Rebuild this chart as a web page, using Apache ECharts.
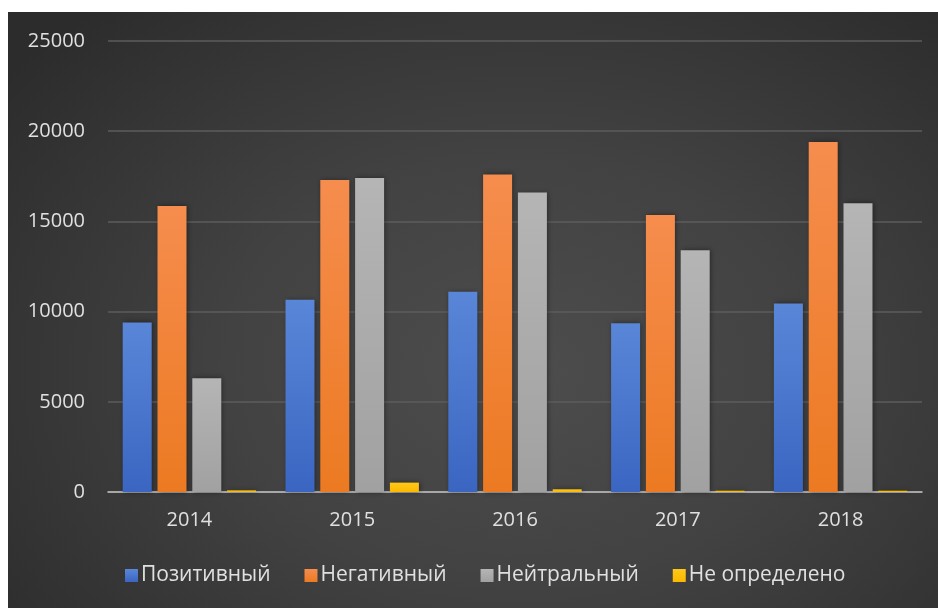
<!DOCTYPE html>
<html>
<head>
<meta charset="utf-8">
<script src="https://cdn.jsdelivr.net/npm/echarts@6/dist/echarts.min.js"></script>
<style>
html,body{margin:0;padding:0;background:#fff;}
#chart{
	position:absolute;left:8px;top:12px;width:930px;height:596px;
	background:radial-gradient(ellipse 70% 80% at 55% 60%, #4d4d4d 0%, #424242 45%, #2c2c2c 100%);
}
</style>
</head>
<body>
<div id="chart"></div>
<script>
// категории и значения
var years = ['2014', '2015', '2016', '2017', '2018'];
var positive = [9400, 10650, 11100, 9350, 10450];
var negative = [15850, 17300, 17600, 15350, 19400];
var neutral = [6300, 17400, 16600, 13400, 16000];
var undefinedVals = [90, 520, 150, 70, 70];
var seriesNames = ['Позитивный', 'Негативный', 'Нейтральный', 'Не определено'];

var myChart = echarts.init(document.getElementById('chart'));

function grad(top, bottom) {
	return new echarts.graphic.LinearGradient(0, 0, 0, 1, [
		{ offset: 0, color: top },
		{ offset: 1, color: bottom }
	]);
}
var fills = [
	grad('#5a86d8', '#3a66c2'),
	grad('#f68d4e', '#ec7a22'),
	grad('#b5b5b5', '#a1a1a1'),
	grad('#ffc81a', '#fbb800')
];
var legendColors = ['#4a78cc', '#ef7f2e', '#a8a8a8', '#ffc000'];

function bar(name, data, i) {
	return {
		name: name,
		type: 'bar',
		data: data,
		barWidth: 29,
		barGap: '20%',
		color: legendColors[i],
		itemStyle: {
			color: fills[i],
			shadowBlur: 5,
			shadowColor: 'rgba(0,0,0,0.45)',
			shadowOffsetX: 1,
			shadowOffsetY: 0
		}
	};
}

var option = {
	animation: false,
	textStyle: { fontFamily: 'Open Sans' },
	grid: { left: 100, right: 16, top: 29, bottom: 116 },
	legend: {
		data: seriesNames,
		left: 112,
		bottom: 17,
		itemWidth: 13,
		itemHeight: 13,
		itemGap: 34,
		icon: 'rect',
		selectedMode: false,
		textStyle: { color: '#e0e0e0', fontSize: 21, padding: [0, 0, 0, -2] }
	},
	xAxis: {
		type: 'category',
		data: years,
		axisTick: { show: false },
		axisLine: { lineStyle: { color: '#c4c4c4', width: 1.5 } },
		axisLabel: { color: '#e0e0e0', fontSize: 20, margin: 18 }
	},
	yAxis: {
		type: 'value',
		min: 0,
		max: 25000,
		interval: 5000,
		axisLine: { show: false },
		axisTick: { show: false },
		axisLabel: { color: '#e0e0e0', fontSize: 20, margin: 23, formatter: function (v) { return String(v); } },
		splitLine: { lineStyle: { color: '#5c5c5c', width: 1.5 } }
	},
	series: [
		bar(seriesNames[0], positive, 0),
		bar(seriesNames[1], negative, 1),
		bar(seriesNames[2], neutral, 2),
		bar(seriesNames[3], undefinedVals, 3)
	]
};
myChart.setOption(option);
</script>
</body>
</html>
